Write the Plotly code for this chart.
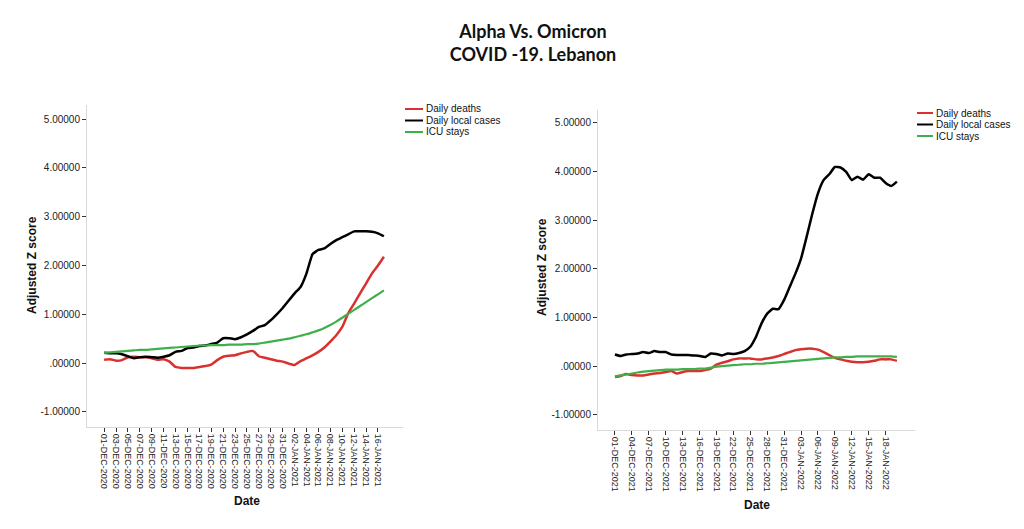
import pandas as pd
from datetime import datetime
import plotly.graph_objects as go

# ---------------- Alpha wave (left panel) ----------------
alpha_start = "2020-12-01"
alpha_deaths = [0.07, 0.08, 0.05, 0.06, 0.12, 0.13, 0.12, 0.12, 0.10, 0.07,
                0.08, 0.03, -0.08, -0.10, -0.10, -0.10, -0.08, -0.06, -0.03, 0.06,
                0.13, 0.15, 0.16, 0.20, 0.23, 0.25, 0.14, 0.11, 0.08, 0.05,
                0.03, -0.01, -0.04, 0.04, 0.10, 0.16, 0.23, 0.32, 0.44, 0.57,
                0.74, 1.02, 1.22, 1.43, 1.63, 1.84, 2.00, 2.18]
alpha_cases = [0.21, 0.20, 0.20, 0.18, 0.14, 0.10, 0.12, 0.13, 0.12, 0.11,
               0.13, 0.16, 0.23, 0.25, 0.31, 0.32, 0.35, 0.36, 0.39, 0.42,
               0.51, 0.51, 0.49, 0.53, 0.59, 0.66, 0.74, 0.78, 0.88, 1.00,
               1.13, 1.28, 1.43, 1.56, 1.84, 2.23, 2.32, 2.35, 2.44, 2.52,
               2.58, 2.64, 2.70, 2.70, 2.70, 2.69, 2.66, 2.60]
alpha_icu = [0.21, 0.22, 0.23, 0.24, 0.25, 0.26, 0.27, 0.27, 0.28, 0.29,
             0.30, 0.31, 0.32, 0.33, 0.34, 0.35, 0.36, 0.36, 0.37, 0.37,
             0.37, 0.38, 0.38, 0.38, 0.39, 0.39, 0.40, 0.42, 0.44, 0.46,
             0.48, 0.50, 0.53, 0.56, 0.59, 0.63, 0.67, 0.72, 0.78, 0.85,
             0.93, 1.01, 1.09, 1.17, 1.25, 1.33, 1.41, 1.49]
alpha_ticks = ["01-DEC-2020", "03-DEC-2020", "05-DEC-2020", "07-DEC-2020",
               "09-DEC-2020", "11-DEC-2020", "13-DEC-2020", "15-DEC-2020",
               "17-DEC-2020", "19-DEC-2020", "21-DEC-2020", "23-DEC-2020",
               "25-DEC-2020", "27-DEC-2020", "29-DEC-2020", "31-DEC-2020",
               "02-JAN-2021", "04-JAN-2021", "06-JAN-2021", "08-JAN-2021",
               "10-JAN-2021", "12-JAN-2021", "14-JAN-2021", "16-JAN-2021"]

# ---------------- Omicron wave (right panel) ----------------
omicron_start = "2021-12-01"
omicron_deaths = [-0.22, -0.20, -0.16, -0.18, -0.19, -0.19, -0.17, -0.15, -0.14, -0.12,
                  -0.10, -0.15, -0.12, -0.10, -0.10, -0.10, -0.08, -0.05, 0.03, 0.07,
                  0.10, 0.14, 0.16, 0.16, 0.16, 0.14, 0.14, 0.16, 0.18, 0.21,
                  0.25, 0.29, 0.33, 0.35, 0.36, 0.36, 0.34, 0.29, 0.23, 0.17,
                  0.14, 0.11, 0.09, 0.08, 0.08, 0.09, 0.11, 0.14, 0.14, 0.14,
                  0.11]
omicron_cases = [0.24, 0.21, 0.24, 0.25, 0.26, 0.29, 0.27, 0.31, 0.29, 0.29,
                 0.24, 0.23, 0.23, 0.23, 0.22, 0.21, 0.19, 0.26, 0.25, 0.22,
                 0.26, 0.25, 0.27, 0.31, 0.40, 0.60, 0.88, 1.08, 1.18, 1.17,
                 1.36, 1.63, 1.90, 2.21, 2.66, 3.13, 3.55, 3.82, 3.94, 4.09,
                 4.08, 3.99, 3.82, 3.89, 3.83, 3.94, 3.87, 3.87, 3.76, 3.70,
                 3.79]
omicron_icu = [-0.21, -0.19, -0.17, -0.15, -0.13, -0.11, -0.10, -0.09, -0.08, -0.07,
               -0.07, -0.07, -0.06, -0.06, -0.06, -0.05, -0.05, -0.03, -0.01, 0.00,
               0.01, 0.02, 0.03, 0.04, 0.04, 0.05, 0.05, 0.06, 0.07, 0.08,
               0.09, 0.10, 0.11, 0.12, 0.13, 0.14, 0.15, 0.16, 0.17, 0.18,
               0.18, 0.19, 0.19, 0.20, 0.20, 0.20, 0.20, 0.20, 0.20, 0.20,
               0.19]
omicron_ticks = ["01-DEC-2021", "04-DEC-2021", "07-DEC-2021", "10-DEC-2021",
                 "13-DEC-2021", "16-DEC-2021", "19-DEC-2021", "22-DEC-2021",
                 "25-DEC-2021", "28-DEC-2021", "31-DEC-2021", "03-JAN-2022",
                 "06-JAN-2022", "09-JAN-2022", "12-JAN-2022", "15-JAN-2022",
                 "18-JAN-2022"]

y_tickvals = [-1, 0, 1, 2, 3, 4, 5]
y_ticktext = ["-1.00000", ".00000", "1.00000", "2.00000", "3.00000", "4.00000", "5.00000"]

series_names = ["Daily deaths", "Daily local cases", "ICU stays"]
series_colors = ["#d8312f", "#000000", "#3faf4b"]
series_widths = [2.5, 2.5, 2.2]

W, H = 1024, 529
FONT = "Liberation Sans, Arial, sans-serif"


def px_x(p):
    return p / W


def px_y(p):
    return 1 - p / H


def parse_tick(lbl):
    return datetime.strptime(lbl.title(), "%d-%b-%Y").strftime("%Y-%m-%d")


fig = go.Figure()

panels = [
    dict(start=alpha_start, series=[alpha_deaths, alpha_cases, alpha_icu], ticks=alpha_ticks,
         xa="x", ya="y"),
    dict(start=omicron_start, series=[omicron_deaths, omicron_cases, omicron_icu], ticks=omicron_ticks,
         xa="x2", ya="y2"),
]

for p in panels:
    for vals, name, col, w in zip(p["series"], series_names, series_colors, series_widths):
        dates = pd.date_range(p["start"], periods=len(vals), freq="D")
        fig.add_trace(go.Scatter(
            x=dates, y=vals, mode="lines", name=name,
            line=dict(color=col, width=w, shape="spline", smoothing=0.4),
            xaxis=p["xa"], yaxis=p["ya"], showlegend=False,
        ))

axis_common = dict(
    showgrid=False, zeroline=False, showline=True, linecolor="#d9d9d9", linewidth=1,
    ticks="outside", ticklen=4, tickwidth=1, tickcolor="#333333",
    tickfont=dict(family=FONT, size=10, color="#222222"),
)

fig.update_layout(
    width=W, height=H, autosize=False,
    margin=dict(l=0, r=0, t=0, b=0),
    paper_bgcolor="white", plot_bgcolor="white",
    showlegend=False,
    title=dict(
        text="<b>Alpha Vs. Omicron<br>COVID -19. Lebanon</b>",
        x=533 / W, xanchor="center", xref="paper",
        y=1 - 38 / H, yanchor="top", yref="container",
        font=dict(family="Lato, Open Sans, sans-serif", size=18, color="#111111"),
    ),
    xaxis=dict(
        axis_common, domain=[px_x(87), px_x(403)], anchor="y", type="date",
        range=["2020-11-28 03:00", "2021-01-20 05:00"],
        tickmode="array", tickvals=[parse_tick(t) for t in alpha_ticks], ticktext=alpha_ticks,
        tickangle=90, tickfont=dict(family=FONT, size=9, color="#222222"),
    ),
    yaxis=dict(
        axis_common, domain=[px_y(427), px_y(105)], anchor="x",
        range=[-1.31, 5.29], tickmode="array", tickvals=y_tickvals, ticktext=y_ticktext,
    ),
    xaxis2=dict(
        axis_common, domain=[px_x(598), px_x(915)], anchor="y2", type="date",
        range=["2021-11-28 00:00", "2022-01-23 05:00"],
        tickmode="array", tickvals=[parse_tick(t) for t in omicron_ticks], ticktext=omicron_ticks,
        tickangle=90, tickfont=dict(family=FONT, size=9, color="#222222"),
    ),
    yaxis2=dict(
        axis_common, domain=[px_y(430), px_y(110)], anchor="x2",
        range=[-1.31, 5.26], tickmode="array", tickvals=y_tickvals, ticktext=y_ticktext,
    ),
)

# axis titles
title_font = dict(family=FONT, size=12, color="#111111")
for (xc, yc) in [(32, 265), (542, 267)]:
    fig.add_annotation(text="<b>Adjusted Z score</b>", x=px_x(xc), y=px_y(yc), xref="paper", yref="paper",
                       textangle=-90, showarrow=False, font=title_font, xanchor="center", yanchor="middle")
for (xc, yc) in [(247, 501), (757, 505)]:
    fig.add_annotation(text="<b>Date</b>", x=px_x(xc), y=px_y(yc), xref="paper", yref="paper",
                       showarrow=False, font=title_font, xanchor="center", yanchor="middle")

# compact legends (one per panel)
legend_font = dict(family=FONT, size=10, color="#111111")
for (lx0, lx1, ly0) in [(405, 423, 109), (917, 933, 113)]:
    for i, (name, col) in enumerate(zip(series_names, series_colors)):
        yy = ly0 + i * 11.5
        fig.add_shape(type="line", xref="paper", yref="paper",
                      x0=px_x(lx0), x1=px_x(lx1), y0=px_y(yy), y1=px_y(yy),
                      line=dict(color=col, width=2))
        fig.add_annotation(text=name, x=px_x(lx1 + 1), y=px_y(yy), xref="paper", yref="paper",
                           showarrow=False, font=legend_font, xanchor="left", yanchor="middle")

fig.write_html("out.html")
